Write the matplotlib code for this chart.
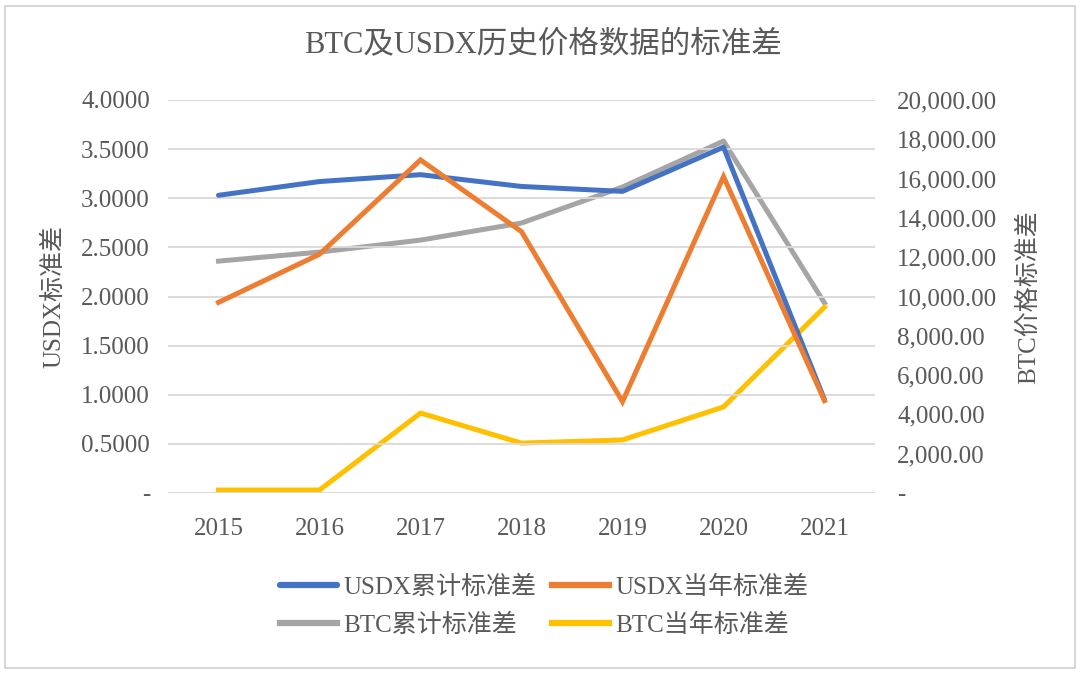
import matplotlib
matplotlib.use("Agg")
import matplotlib.pyplot as plt
from matplotlib.patches import Rectangle
from matplotlib.ticker import FuncFormatter

plt.rcParams['font.family'] = ['Liberation Serif', 'Noto Sans CJK SC']

years = ['2015', '2016', '2017', '2018', '2019', '2020', '2021']
usdx_cum = [3.03, 3.17, 3.24, 3.12, 3.07, 3.52, 0.95]
usdx_year = [1.94, 2.43, 3.39, 2.66, 0.93, 3.22, 0.94]
btc_cum = [11800, 12260, 12870, 13740, 15570, 17910, 9670]
btc_year = [150, 150, 4070, 2540, 2700, 4380, 9460]

title = 'BTC及USDX历史价格数据的标准差'
left_label = 'USDX标准差'
right_label = 'BTC价格标准差'
names = ['USDX累计标准差', 'USDX当年标准差', 'BTC累计标准差', 'BTC当年标准差']

TXT = '#595959'
GRID = '#D9D9D9'
colors = ['#4472C4', '#ED7D31', '#A5A5A5', '#FFC000']
FS = 18

fig = plt.figure(figsize=(10.8, 6.74), dpi=100)
fig.patches.append(Rectangle((5 / 1080, 6 / 674), 1070 / 1080, 662 / 674,
                             transform=fig.transFigure, fill=False,
                             edgecolor='#D0D0D0', linewidth=1.2))

ax = fig.add_axes([168 / 1080, 1 - 493 / 674, 707 / 1080, 393 / 674])
ax2 = ax.twinx()

x = list(range(len(years)))
l1, = ax.plot(x, usdx_cum, color=colors[0], lw=3.6, solid_joinstyle='round',
              solid_capstyle='round', label=names[0], zorder=3)
l2, = ax.plot(x, usdx_year, color=colors[1], lw=3.6, solid_joinstyle='miter',
              label=names[1], zorder=3)
l3, = ax2.plot(x, btc_cum, color=colors[2], lw=3.6, solid_joinstyle='round',
               label=names[2], zorder=3)
l4, = ax2.plot(x, btc_year, color=colors[3], lw=3.6, solid_joinstyle='round',
               label=names[3], zorder=3)

ax.set_xlim(-0.5, len(years) - 0.5)
ax.set_ylim(0, 4)
ax2.set_ylim(0, 20000)
ax.set_yticks([i * 0.5 for i in range(9)])
ax2.set_yticks([i * 2000 for i in range(11)])
ax.yaxis.set_major_formatter(FuncFormatter(lambda v, p: '-' if v == 0 else f'{v:.4f}'))
ax2.yaxis.set_major_formatter(FuncFormatter(lambda v, p: '-' if v == 0 else f'{v:,.2f}'))
ax.set_xticks(x)
ax.set_xticklabels(years)

ax.grid(axis='y', color=GRID, lw=1.3)
ax.set_axisbelow(True)
for a in (ax, ax2):
    for s in a.spines.values():
        s.set_visible(False)
    a.tick_params(length=0, colors=TXT, labelsize=FS)
ax.tick_params(axis='y', pad=13)
ax.tick_params(axis='x', pad=18)
ax2.tick_params(axis='y', pad=16)

ax.set_zorder(ax2.get_zorder() + 1)
ax.patch.set_visible(False)

fig.text(54 / 1080, 1 - 297 / 674, left_label, rotation=90, ha='center',
         va='center', color=TXT, fontsize=FS)
fig.text(1028 / 1080, 1 - 297 / 674, right_label, rotation=90, ha='center',
         va='center', color=TXT, fontsize=FS)
fig.text(543 / 1080, 1 - 45 / 674, title, ha='center', va='center',
         color=TXT, fontsize=22)

leg = fig.legend([l1, l3, l2, l4], [names[0], names[2], names[1], names[3]],
                 ncol=2, loc='center', bbox_to_anchor=(544 / 1080, 1 - 606 / 674),
                 frameon=False, fontsize=FS, handlelength=2.3, handletextpad=0.25,
                 columnspacing=0.6, labelspacing=0.6)
for t in leg.get_texts():
    t.set_color(TXT)
for h in leg.legend_handles:
    h.set_linewidth(4.5)

fig.savefig('out.png', dpi=100)
